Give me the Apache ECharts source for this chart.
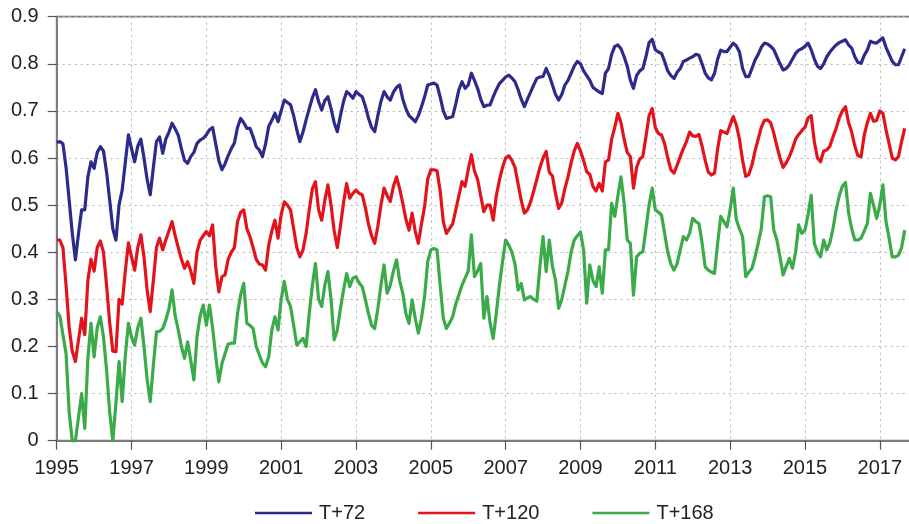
<!DOCTYPE html>
<html>
<head>
<meta charset="utf-8">
<script src="https://cdn.jsdelivr.net/npm/echarts@6/dist/echarts.min.js"></script>
<style>
html,body{margin:0;padding:0;background:#fff;}
#chart{width:909px;height:524px;}
</style>
</head>
<body>
<div id="chart"></div>
<script>
// Monthly values, Jan 1995 .. Sep 2017
const startYear = 1995;
const seriesNames = ['T+72', 'T+120', 'T+168'];
const xTickLabels = ['1995','1997','1999','2001','2003','2005','2007','2009','2011','2013','2015','2017'];
const yTickLabels = ['0','0.1','0.2','0.3','0.4','0.5','0.6','0.7','0.8','0.9'];

const t72 = [
0.633,0.635,0.630,0.58,0.51,0.44,0.384,0.44,0.49,0.49,0.56,0.592,
0.578,0.612,0.624,0.615,0.57,0.51,0.45,0.426,0.50,0.532,0.59,0.649,
0.62,0.592,0.625,0.640,0.60,0.555,0.522,0.58,0.635,0.645,0.61,0.64,
0.655,0.674,0.662,0.648,0.62,0.595,0.589,0.603,0.612,0.631,0.638,0.642,
0.649,0.660,0.665,0.63,0.595,0.575,0.588,0.605,0.62,0.632,0.665,0.684,
0.675,0.663,0.663,0.645,0.624,0.617,0.603,0.63,0.667,0.680,0.695,0.677,
0.70,0.723,0.718,0.713,0.69,0.66,0.635,0.655,0.681,0.705,0.728,0.745,
0.72,0.702,0.722,0.730,0.705,0.675,0.656,0.69,0.72,0.741,0.735,0.727,
0.741,0.735,0.730,0.71,0.685,0.665,0.656,0.69,0.72,0.741,0.73,0.723,
0.74,0.750,0.755,0.725,0.705,0.69,0.684,0.677,0.69,0.709,0.73,0.755,
0.757,0.759,0.755,0.73,0.70,0.684,0.686,0.688,0.715,0.745,0.762,0.748,
0.755,0.780,0.765,0.748,0.725,0.709,0.712,0.713,0.73,0.745,0.758,0.765,
0.772,0.776,0.770,0.762,0.745,0.725,0.709,0.725,0.74,0.755,0.769,0.772,
0.773,0.790,0.775,0.755,0.735,0.723,0.735,0.755,0.765,0.78,0.795,0.805,
0.80,0.785,0.775,0.765,0.75,0.745,0.740,0.737,0.780,0.790,0.82,0.837,
0.840,0.832,0.815,0.795,0.765,0.748,0.775,0.785,0.79,0.815,0.845,0.852,
0.830,0.825,0.822,0.805,0.785,0.775,0.769,0.782,0.790,0.805,0.808,0.812,
0.815,0.820,0.818,0.80,0.78,0.770,0.766,0.780,0.81,0.829,0.826,0.826,
0.835,0.844,0.838,0.825,0.79,0.773,0.773,0.79,0.808,0.82,0.835,0.844,
0.842,0.837,0.83,0.815,0.80,0.787,0.790,0.798,0.81,0.822,0.829,0.832,
0.837,0.844,0.830,0.81,0.795,0.790,0.80,0.815,0.825,0.833,0.84,0.845,
0.848,0.851,0.840,0.833,0.815,0.803,0.801,0.818,0.829,0.848,0.845,0.844,
0.850,0.855,0.835,0.82,0.805,0.798,0.798,0.815,0.832
];

const t120 = [
0.426,0.426,0.41,0.33,0.24,0.19,0.168,0.214,0.26,0.225,0.34,0.385,
0.36,0.41,0.424,0.40,0.33,0.25,0.19,0.189,0.30,0.29,0.36,0.42,
0.39,0.362,0.41,0.437,0.39,0.32,0.274,0.34,0.41,0.43,0.405,0.426,
0.445,0.465,0.435,0.41,0.385,0.366,0.38,0.36,0.334,0.40,0.425,0.435,
0.444,0.435,0.458,0.37,0.316,0.348,0.352,0.385,0.40,0.41,0.465,0.485,
0.49,0.45,0.433,0.41,0.385,0.375,0.373,0.362,0.415,0.445,0.468,0.43,
0.48,0.507,0.50,0.49,0.45,0.41,0.39,0.405,0.44,0.49,0.535,0.55,
0.49,0.468,0.51,0.543,0.50,0.445,0.41,0.455,0.505,0.546,0.515,0.525,
0.532,0.525,0.522,0.495,0.46,0.435,0.419,0.455,0.50,0.536,0.52,0.508,
0.54,0.56,0.535,0.504,0.47,0.447,0.483,0.445,0.419,0.46,0.497,0.555,
0.575,0.575,0.573,0.53,0.465,0.44,0.45,0.46,0.49,0.52,0.55,0.54,
0.575,0.607,0.572,0.555,0.52,0.486,0.50,0.50,0.468,0.52,0.553,0.58,
0.60,0.605,0.595,0.58,0.545,0.51,0.483,0.49,0.507,0.53,0.555,0.58,
0.60,0.614,0.57,0.562,0.525,0.493,0.505,0.535,0.56,0.59,0.615,0.631,
0.615,0.595,0.571,0.565,0.54,0.53,0.546,0.53,0.592,0.596,0.64,0.665,
0.695,0.675,0.64,0.612,0.603,0.536,0.58,0.598,0.603,0.645,0.69,0.705,
0.665,0.652,0.649,0.63,0.60,0.575,0.568,0.585,0.603,0.62,0.635,0.655,
0.647,0.646,0.650,0.625,0.595,0.57,0.564,0.568,0.62,0.658,0.655,0.652,
0.67,0.688,0.67,0.64,0.595,0.561,0.565,0.585,0.615,0.64,0.665,0.68,
0.681,0.675,0.653,0.625,0.60,0.58,0.59,0.603,0.62,0.64,0.65,0.658,
0.665,0.685,0.69,0.635,0.60,0.592,0.615,0.617,0.625,0.645,0.663,0.685,
0.70,0.709,0.675,0.655,0.625,0.605,0.603,0.648,0.675,0.695,0.678,0.68,
0.70,0.695,0.66,0.63,0.60,0.596,0.603,0.635,0.663
];

const t168 = [
0.274,0.265,0.225,0.185,0.06,0.0,0.0,0.05,0.10,0.026,0.175,0.249,
0.178,0.24,0.263,0.22,0.15,0.06,0.0,0.08,0.168,0.083,0.18,0.249,
0.22,0.203,0.24,0.26,0.20,0.13,0.083,0.16,0.231,0.232,0.238,0.256,
0.28,0.32,0.265,0.235,0.20,0.175,0.21,0.17,0.129,0.22,0.265,0.288,
0.245,0.288,0.24,0.18,0.125,0.164,0.185,0.205,0.207,0.207,0.27,0.31,
0.334,0.249,0.245,0.238,0.20,0.182,0.165,0.157,0.178,0.235,0.263,0.235,
0.30,0.338,0.30,0.285,0.245,0.203,0.21,0.217,0.20,0.27,0.33,0.376,
0.30,0.285,0.33,0.359,0.30,0.214,0.235,0.28,0.32,0.355,0.327,0.345,
0.348,0.335,0.327,0.30,0.27,0.245,0.238,0.28,0.33,0.373,0.313,0.33,
0.36,0.384,0.34,0.313,0.27,0.249,0.299,0.26,0.228,0.26,0.306,0.38,
0.405,0.408,0.405,0.33,0.26,0.238,0.25,0.263,0.29,0.31,0.33,0.345,
0.36,0.437,0.348,0.36,0.376,0.26,0.306,0.25,0.217,0.27,0.33,0.38,
0.426,0.415,0.40,0.375,0.32,0.334,0.299,0.303,0.306,0.30,0.296,0.37,
0.433,0.359,0.426,0.37,0.341,0.281,0.30,0.33,0.36,0.40,0.426,0.435,
0.443,0.405,0.292,0.373,0.34,0.327,0.369,0.313,0.405,0.405,0.504,0.476,
0.52,0.56,0.504,0.426,0.419,0.309,0.39,0.398,0.401,0.45,0.50,0.536,
0.49,0.485,0.479,0.44,0.40,0.375,0.362,0.376,0.405,0.433,0.426,0.44,
0.472,0.465,0.461,0.42,0.369,0.362,0.358,0.355,0.42,0.476,0.465,0.454,
0.49,0.536,0.469,0.45,0.433,0.348,0.358,0.366,0.39,0.419,0.45,0.518,
0.52,0.518,0.447,0.426,0.39,0.352,0.37,0.387,0.366,0.40,0.458,0.44,
0.447,0.48,0.521,0.419,0.40,0.39,0.426,0.405,0.42,0.45,0.49,0.52,
0.54,0.548,0.483,0.45,0.426,0.426,0.43,0.445,0.461,0.525,0.50,0.472,
0.50,0.543,0.465,0.43,0.39,0.39,0.394,0.41,0.447
];

const colors = ['#2c2a8a', '#e3131b', '#3aab48'];
const labelFont = "'Liberation Sans', Arial, sans-serif";

function toPoints(vals) {
  return vals.map((v, i) => [startYear + i / 12, v]);
}

const chart = echarts.init(document.getElementById('chart'), null, {renderer: 'canvas'});
const option = {
  animation: false,
  backgroundColor: '#fff',
  grid: {
    left: 56.7, top: 16.7, width: 856, height: 424,
    containLabel: false, outerBoundsMode: 'none',
    show: true, borderColor: '#7a7a7a', borderWidth: 1.8, backgroundColor: 'transparent'
  },
  legend: {
    data: seriesNames,
    left: 255, top: 503, padding: 0,
    icon: 'rect', itemWidth: 57, itemHeight: 2.5, itemGap: 53,
    textStyle: {fontFamily: labelFont, fontSize: 20, color: '#222', padding: [0,0,0,2]}
  },
  xAxis: {
    type: 'value', min: 1995, max: 2017.88, interval: 2,
    axisLine: {show: true, lineStyle: {color: '#7a7a7a', width: 1.8}},
    axisTick: {show: true, length: 9, inside: false, lineStyle: {color: '#555', width: 1.2}},
    axisLabel: {
      fontFamily: labelFont, fontSize: 20, color: '#222', margin: 18,
      formatter: function (v) {
        const s = String(Math.round(v));
        return (Math.abs(v - Math.round(v)) < 1e-6 && xTickLabels.indexOf(s) >= 0) ? s : '';
      }
    },
    splitLine: {show: true, lineStyle: {color: '#b5b5b5', type: [2, 4], width: 1}}
  },
  yAxis: {
    type: 'value', min: 0, max: 0.9, interval: 0.1,
    axisLine: {show: true, lineStyle: {color: '#7a7a7a', width: 1.8}},
    axisTick: {show: true, length: 9, inside: false, lineStyle: {color: '#555', width: 1.2}},
    axisLabel: {
      fontFamily: labelFont, fontSize: 20, color: '#222', margin: 18,
      formatter: function (v) { return yTickLabels[Math.round(v * 10)]; }
    },
    splitLine: {show: true, lineStyle: {color: '#b5b5b5', type: [2, 4], width: 1}}
  },
  series: [t72, t120, t168].map((vals, k) => ({
    name: seriesNames[k],
    type: 'line',
    data: toPoints(vals),
    showSymbol: false,
    symbol: 'none',
    clip: false,
    lineStyle: {color: colors[k], width: 3.2, join: 'round'},
    itemStyle: {color: colors[k]},
    z: 3 + k
  }))
};
chart.setOption(option);
</script>
</body>
</html>
